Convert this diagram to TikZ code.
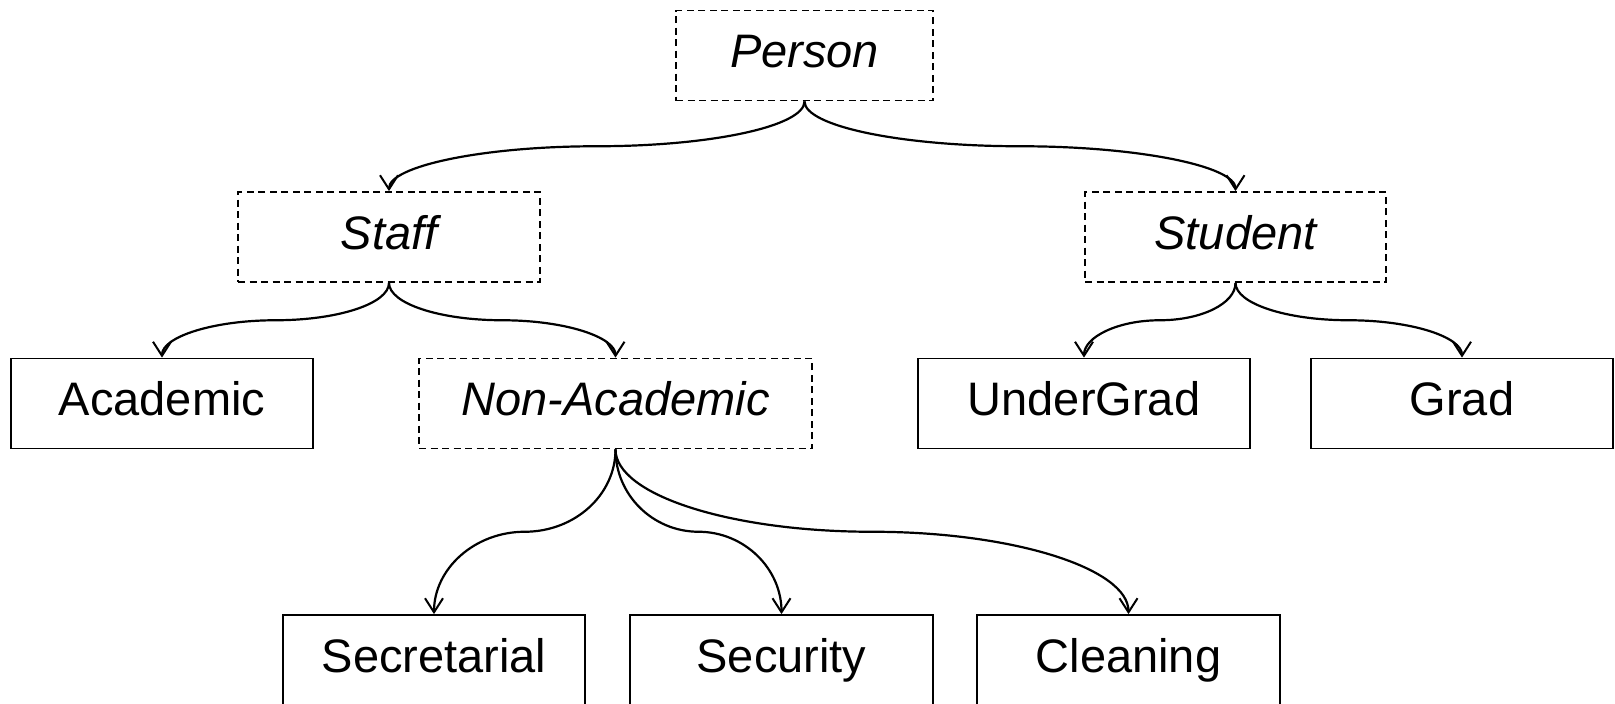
\documentclass[tikz,border=0pt]{standalone}
\usepackage{fontspec}
\setmainfont{Liberation Sans}
\usetikzlibrary{arrows.meta,calc}

\tikzset{
  box/.style={draw, line width=1.8pt, minimum height=90pt, inner sep=0pt,
    text height=34pt, text depth=10pt,
    font=\fontsize{47}{56}\selectfont},
  abstractbox/.style={box, dash pattern=on 7pt off 4.5pt, font=\fontsize{47}{56}\selectfont\itshape},
  % vertical-out / horizontal-middle / vertical-in curved connector
  elbow/.style={to path={
    let \p1=(\tikztostart), \p2=(\tikztotarget),
        \n1={0.5*(\x1+\x2)}, \n2={0.5*(\y1+\y2)} in
    .. controls (\x1,{\y1+0.552*(\n2-\y1)}) and ({\n1+0.552*(\x1-\n1)},\n2) .. (\n1,\n2)
    .. controls ({\n1+0.552*(\x2-\n1)},\n2) and (\x2,{\y2+0.552*(\n2-\y2)}) .. (\x2,\y2)
    \tikztonodes}},
  link/.style={draw, line width=2.2pt, elbow,
    -{Straight Barb[length=14pt,width=18pt,line width=2pt]}}
}

\begin{document}
\begin{tikzpicture}[x=1pt,y=1pt]
  \useasboundingbox (0,0) rectangle (1615,-704);

  % abstract classes
  \node[abstractbox, minimum width=257pt] (person)  at (804.5,-55.5) {Person};
  \node[abstractbox, minimum width=302pt] (staff)   at (389,-237)    {Staff};
  \node[abstractbox, minimum width=301pt] (student) at (1235.5,-237) {Student};
  \node[abstractbox, minimum width=393pt] (nonacad) at (615.5,-403.5) {Non-Academic};

  % concrete classes
  \node[box, minimum width=302pt] (academic)    at (162,-403.5)  {Academic};
  \node[box, minimum width=332pt] (undergrad)   at (1084,-403.5) {UnderGrad};
  \node[box, minimum width=302pt] (grad)        at (1462,-403.5) {Grad};
  \node[box, minimum width=302pt] (secretarial) at (434,-660)    {Secretarial};
  \node[box, minimum width=303pt] (security)    at (781.5,-660)  {Security};
  \node[box, minimum width=303pt] (cleaning)    at (1128.5,-660) {Cleaning};

  % generalisation links
  \draw[link] (person.south)  to (staff.north);
  \draw[link] (person.south)  to (student.north);
  \draw[link] (staff.south)   to (academic.north);
  \draw[link] (staff.south)   to (nonacad.north);
  \draw[link] (student.south) to (undergrad.north);
  \draw[link] (student.south) to (grad.north);
  \draw[link] (nonacad.south) to (secretarial.north);
  \draw[link] (nonacad.south) to (security.north);
  \draw[link] (nonacad.south) to (cleaning.north);
\end{tikzpicture}
\end{document}
